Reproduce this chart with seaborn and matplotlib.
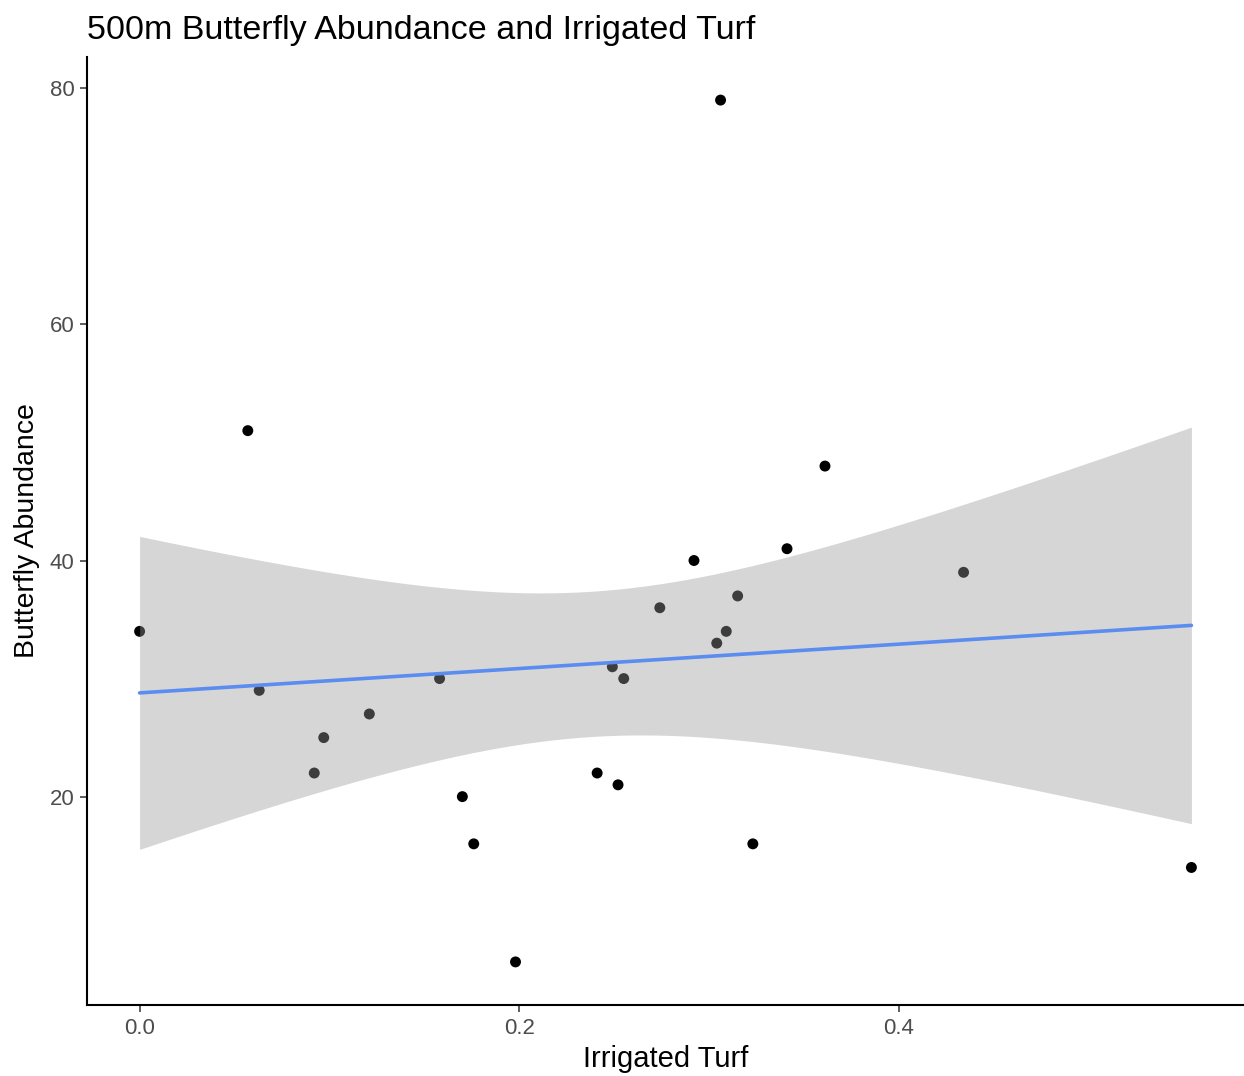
import numpy as np
import pandas as pd
import matplotlib
matplotlib.use("Agg")
import matplotlib.pyplot as plt
import seaborn as sns

# Data
irrigated_turf = [0.000, 0.057, 0.063, 0.092, 0.097, 0.121, 0.158, 0.170, 0.176, 0.198,
                  0.241, 0.249, 0.252, 0.255, 0.274, 0.292, 0.304, 0.306, 0.309, 0.315,
                  0.323, 0.341, 0.361, 0.434, 0.554]
butterfly_abundance = [34, 51, 29, 22, 25, 27, 30, 20, 16, 6,
                       22, 31, 21, 30, 36, 40, 33, 79, 34, 37,
                       16, 41, 48, 39, 14]
x_ticks = [0.0, 0.2, 0.4]
x_tick_labels = ["0.0", "0.2", "0.4"]
y_ticks = [20, 40, 60, 80]
y_tick_labels = ["20", "40", "60", "80"]

df = pd.DataFrame({"x": irrigated_turf, "y": butterfly_abundance})

sns.set_theme(style="white")
plt.rcParams["font.family"] = ["Liberation Sans", "DejaVu Sans"]

fig = plt.figure(figsize=(12.44, 10.76), dpi=100)
ax = fig.add_axes([87 / 1244, 1 - 1005 / 1076, (1244 - 87) / 1244, (1005 - 57) / 1076])

# points
sns.scatterplot(data=df, x="x", y="y", ax=ax, color="black", s=62, edgecolor="none", zorder=2)

# OLS fit with 95% confidence band (like geom_smooth(method="lm"))
x = df["x"].to_numpy()
y = df["y"].to_numpy()
n = len(x)
b1, b0 = np.polyfit(x, y, 1)
resid = y - (b0 + b1 * x)
s = np.sqrt(np.sum(resid ** 2) / (n - 2))
xg = np.linspace(x.min(), x.max(), 80)
yg = b0 + b1 * xg
t_crit = 2.0687  # t(0.975, df=23)
se = s * np.sqrt(1 / n + (xg - x.mean()) ** 2 / np.sum((x - x.mean()) ** 2))
ax.fill_between(xg, yg - t_crit * se, yg + t_crit * se, color="#999999", alpha=0.4,
                linewidth=0, zorder=3)
fit = pd.DataFrame({"x": xg, "y": yg})
sns.lineplot(data=fit, x="x", y="y", ax=ax, color="#5B8CF0", linewidth=2.6, zorder=4)

xr = x.max() - x.min()
yr = y.max() - y.min()
ax.set_xlim(x.min() - 0.05 * xr, x.max() + 0.05 * xr)
ax.set_ylim(y.min() - 0.05 * yr, y.max() + 0.05 * yr)

ax.set_xticks(x_ticks)
ax.set_xticklabels(x_tick_labels)
ax.set_yticks(y_ticks)
ax.set_yticklabels(y_tick_labels)

for side in ["top", "right"]:
    ax.spines[side].set_visible(False)
for side in ["left", "bottom"]:
    ax.spines[side].set_color("black")
    ax.spines[side].set_linewidth(1.5)

ax.tick_params(axis="both", which="both", length=5, width=1.1, color="#333333",
               labelcolor="#4D4D4D", labelsize=16, pad=4, bottom=True, left=True)

ax.set_xlabel("Irrigated Turf", fontsize=21, color="black", labelpad=5)
ax.set_ylabel("Butterfly Abundance", fontsize=20.5, color="black", labelpad=7)
ax.set_title("500m Butterfly Abundance and Irrigated Turf", fontsize=24.5, color="black",
             loc="left", pad=13)

fig.savefig("out.png", dpi=100, facecolor="white")
